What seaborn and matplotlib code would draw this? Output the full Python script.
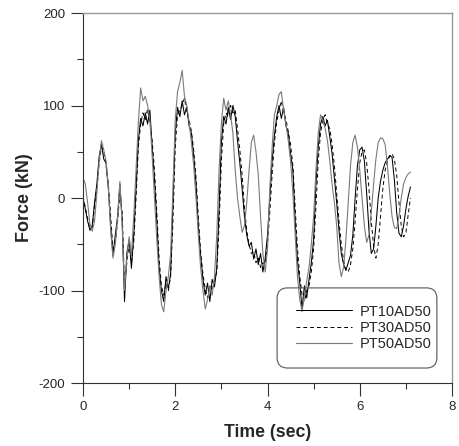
import numpy as np
import pandas as pd
import matplotlib
matplotlib.use("Agg")
import matplotlib.pyplot as plt
import seaborn as sns
from matplotlib.ticker import MultipleLocator
from matplotlib.patches import FancyBboxPatch

time_step = 0.05
series_names = ["PT10AD50", "PT30AD50", "PT50AD50"]

pt10ad50 = [
    0, -12, -25, -35, -30, -5, 15, 45, 58, 42,
    38, 10, -30, -62, -40, -20, 15, -25, -112, -60,
    -45, -76, -40, 10, 62, 86, 78, 92, 80, 95,
    55, 20, -25, -75, -100, -112, -85, -98, -82, -5,
    70, 98, 88, 105, 90, 98, 78, 70, 45, 15,
    -30, -62, -88, -105, -92, -112, -88, -96, -76, -12,
    60, 88, 80, 98, 85, 100, 88, 62, 38, 10,
    -20, -40, -52, -48, -66, -55, -72, -60, -80, -65,
    -40, 0, 40, 68, 88, 100, 86, 98, 78, 70,
    48, 30, -25, -68, -92, -120, -95, -108, -88, -70,
    -45, 15, 55, 80, 88, 78, 84, 66, 48, 22,
    -5, -35, -60, -72, -78, -70, -62, -40, 0, 35,
    52, 55, 40, 5, -35, -60, -55, -30, 0, 18,
    30, 38, 42, 46, 44, 20, -15, -38, -42, -30,
    -12, 2, 12,
]

pt30ad50 = [
    2, -10, -22, -33, -32, -10, 10, 38, 55, 50,
    35, 15, -20, -55, -48, -25, 5, -15, -95, -70,
    -50, -70, -48, 0, 55, 80, 92, 85, 96, 82,
    62, 30, -15, -65, -95, -105, -92, -100, -85, -25,
    55, 90, 95, 100, 108, 92, 85, 72, 52, 22,
    -20, -58, -82, -98, -108, -95, -100, -90, -80, -30,
    40, 80, 92, 88, 100, 92, 95, 75, 52, 25,
    -10, -35, -50, -60, -58, -70, -65, -75, -70, -72,
    -50, -15, 25, 60, 82, 95, 105, 92, 85, 72,
    58, 35, -10, -55, -85, -105, -112, -100, -95, -80,
    -55, -10, 40, 70, 85, 90, 80, 75, 58, 35,
    5, -25, -50, -68, -78, -80, -72, -55, -25, 10,
    38, 50, 52, 38, 10, -25, -52, -65, -50, -20,
    10, 30, 40, 45, 48, 42, 25, -5, -30, -42,
    -38, -18, 0,
]

pt50ad50 = [
    22, 15, -5, -28, -36, -25, 5, 40, 62, 52,
    40, 12, -35, -65, -50, -22, 18, -30, -100, -65,
    -42, -62, -20, 30, 82, 119, 105, 110, 100, 85,
    45, 0, -45, -85, -115, -123, -100, -85, -60, 10,
    85, 115, 125, 138, 110, 100, 82, 60, 35, 0,
    -40, -75, -100, -120, -110, -95, -105, -85, -40, 30,
    80, 108, 95, 105, 90, 70, 30, 0, -20, -37,
    -30, -5, 30, 60, 68, 50, 25, -20, -60, -80,
    -55, 10, 55, 90, 100, 112, 115, 95, 80, 62,
    40, 5, -40, -85, -110, -123, -105, -90, -75, -50,
    -20, 30, 70, 90, 84, 75, 62, 40, 15, -5,
    -30, -70, -85, -75, -45, -5, 35, 60, 68, 55,
    30, 0, -30, -48, -40, -15, 15, 42, 60, 65,
    64, 58, 35, 5, -20, -32, -33, -20, 0, 15,
    22, 26, 28,
]

x_ticks = [0, 2, 4, 6, 8]
y_ticks = [-200, -100, 0, 100, 200]

# ---- build table ----
frames = []
for name, vals in zip(series_names, [pt10ad50, pt30ad50, pt50ad50]):
    t = time_step * np.arange(len(vals))
    frames.append(pd.DataFrame({"Time": t, "Force": vals, "Series": name}))
df = pd.concat(frames, ignore_index=True)

sns.set_style("white")
plt.rcParams["font.family"] = ["Liberation Sans", "DejaVu Sans"]
plt.rcParams["axes.unicode_minus"] = False

fig = plt.figure(figsize=(4.6, 4.46), dpi=100)
ax = fig.add_axes([83 / 460, 63 / 446, 369 / 460, 370 / 446])

styles = {
    "PT10AD50": dict(color="black", lw=0.75, ls="-"),
    "PT30AD50": dict(color="black", lw=0.7, ls=(0, (4, 3))),
    "PT50AD50": dict(color="#7a7a7a", lw=0.8, ls="-"),
}
for name in series_names:
    sub = df[df["Series"] == name]
    sns.lineplot(data=sub, x="Time", y="Force", ax=ax, estimator=None,
                 sort=False, label=name, **styles[name])

ax.set_xlim(0, 8)
ax.set_ylim(-200, 200)
ax.set_xticks(x_ticks)
ax.set_yticks(y_ticks)
ax.xaxis.set_minor_locator(MultipleLocator(1))
ax.yaxis.set_minor_locator(MultipleLocator(50))
ax.tick_params(axis="both", which="major", direction="out", length=9,
               width=0.8, color="#333333", labelsize=9.5, pad=4)
ax.tick_params(axis="both", which="minor", direction="out", length=4.5,
               width=0.8, color="#333333")
ax.tick_params(axis="x", which="both", bottom=True)
ax.tick_params(axis="y", which="both", left=True)

for s in ["left", "bottom"]:
    ax.spines[s].set_color("#333333")
    ax.spines[s].set_linewidth(0.8)
for s in ["top", "right"]:
    ax.spines[s].set_visible(True)
    ax.spines[s].set_color("#999999")
    ax.spines[s].set_linewidth(1.0)

ax.set_xlabel("Time (sec)", fontsize=12.7, fontweight="bold", labelpad=8)
ax.set_ylabel("Force (kN)", fontsize=13, fontweight="bold", labelpad=4)

# legend: frameless entries plus a rounded box drawn separately
leg = ax.legend(loc="upper left", bbox_to_anchor=(0.577, 0.212),
                fontsize=10.5, handlelength=3.85, handletextpad=0.55,
                labelspacing=0.15, borderpad=0.0, borderaxespad=0.0,
                frameon=False)
box = FancyBboxPatch((0.526, 0.0405), 0.433, 0.2165,
                     boxstyle="round,pad=0,rounding_size=0.028",
                     transform=ax.transAxes, facecolor="none",
                     edgecolor="#555555", linewidth=0.8, zorder=5)
ax.add_patch(box)

fig.savefig("out.png", dpi=100)
